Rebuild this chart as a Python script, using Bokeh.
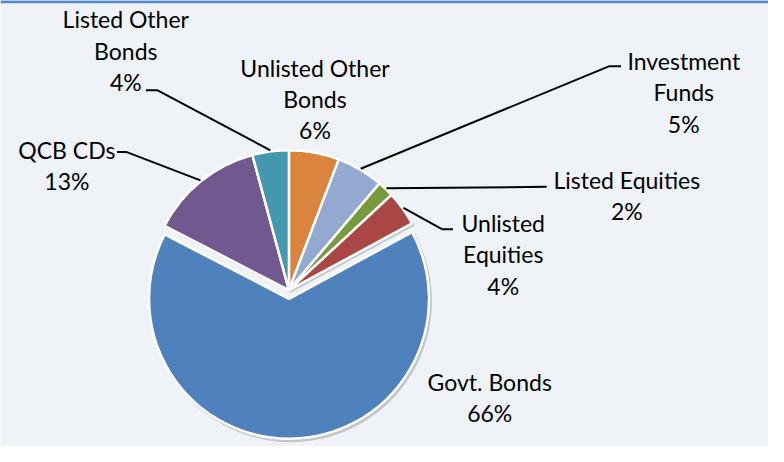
import math
from bokeh.plotting import figure
from bokeh.models import Range1d, Span
from bokeh.core.properties import value
from bokeh.embed import file_html
from bokeh.resources import INLINE

# ---- data (clockwise from 12 o'clock) ----
categories = ["Unlisted Other Bonds", "Investment Funds", "Listed Equities",
              "Unlisted Equities", "Govt. Bonds", "QCB CDs", "Listed Other Bonds"]
label_names = ["Unlisted Other\nBonds", "Investment\nFunds", "Listed Equities",
               "Unlisted\nEquities", "Govt. Bonds", "QCB CDs", "Listed Other\nBonds"]
shares = [5.8, 5.4, 1.9, 4.0, 65.5, 13.2, 4.2]
colors = ["#DB843D", "#93A9CF", "#779A3D", "#AA4643", "#4F81BD", "#71588F", "#4198AF"]
exploded = [0, 0, 0, 0, 1, 0, 0]

# ---- layout (reference pixel coordinates, origin top-left) ----
W, H = 784, 462
CX, CY, R = 293, 300, 145
EXPLODE = 9
label_pos = [(320, 102), (702, 95), (643, 202), (515, 263), (501, 411), (63, 171), (124, 52)]
leader_elbows = [None, [(637, 68), (625, 68)], [(560, 193)], [(463, 237), (452, 237)],
                 None, [(115, 157), (125, 157)], [(145, 93), (157, 93)]]

FIG_W, FIG_H = 768, 446
scale = FIG_H / H
xspan = FIG_W / scale
pad = (xspan - W) / 2

p = figure(width=FIG_W, height=FIG_H, output_backend="svg", toolbar_location=None,
           x_range=Range1d(-pad, W + pad), y_range=Range1d(0, H),
           min_border=0, background_fill_color="#EFF3F7", border_fill_color="#EFF3F7")
p.axis.visible = False
p.grid.visible = False
p.outline_line_color = None

total = sum(shares)
cum = 0.0
wx, wy, sa, ea, mids = [], [], [], [], []
for v, ex in zip(shares, exploded):
    t0 = cum / total * 360.0
    cum += v
    t1 = cum / total * 360.0
    mid = math.radians((t0 + t1) / 2)
    mids.append(mid)
    off = EXPLODE if ex else 0
    cx = CX + off * math.sin(mid)
    cy = CY - off * math.cos(mid)
    wx.append(cx)
    wy.append(H - cy)
    sa.append(math.radians(90 - t1))
    ea.append(math.radians(90 - t0))

# shadow
p.wedge(x=[x + 2 for x in wx], y=[y - 2.5 for y in wy], radius=R + 1,
        start_angle=sa, end_angle=ea, fill_color="#8A8F96", fill_alpha=0.45,
        line_color=None)
# slices
p.wedge(x=wx, y=wy, radius=R, start_angle=sa, end_angle=ea,
        fill_color=colors, line_color="white", line_width=2.5)

# leader lines
xs, ys = [], []
for mid, el in zip(mids, leader_elbows):
    if el is None:
        continue
    ex_ = CX + (R + 1) * math.sin(mid)
    ey_ = CY - (R + 1) * math.cos(mid)
    pts = list(el) + [(ex_, ey_)]
    xs.append([q[0] for q in pts])
    ys.append([H - q[1] for q in pts])
p.multi_line(xs=xs, ys=ys, line_color="black", line_width=2)

# labels
texts = [f"{n}\n{round(v / total * 100)}%" for n, v in zip(label_names, shares)]
p.text(x=[q[0] for q in label_pos], y=[H - q[1] for q in label_pos], text=texts,
       text_font=value("Lato"), text_font_size="23px", text_align="center",
       text_baseline="middle", text_color="black", text_line_height=1.12)

# top border
p.add_layout(Span(location=H - 1.3, dimension="width", line_color="#4F86D0", line_width=3))

open("out.html", "w").write(file_html(p, INLINE))
